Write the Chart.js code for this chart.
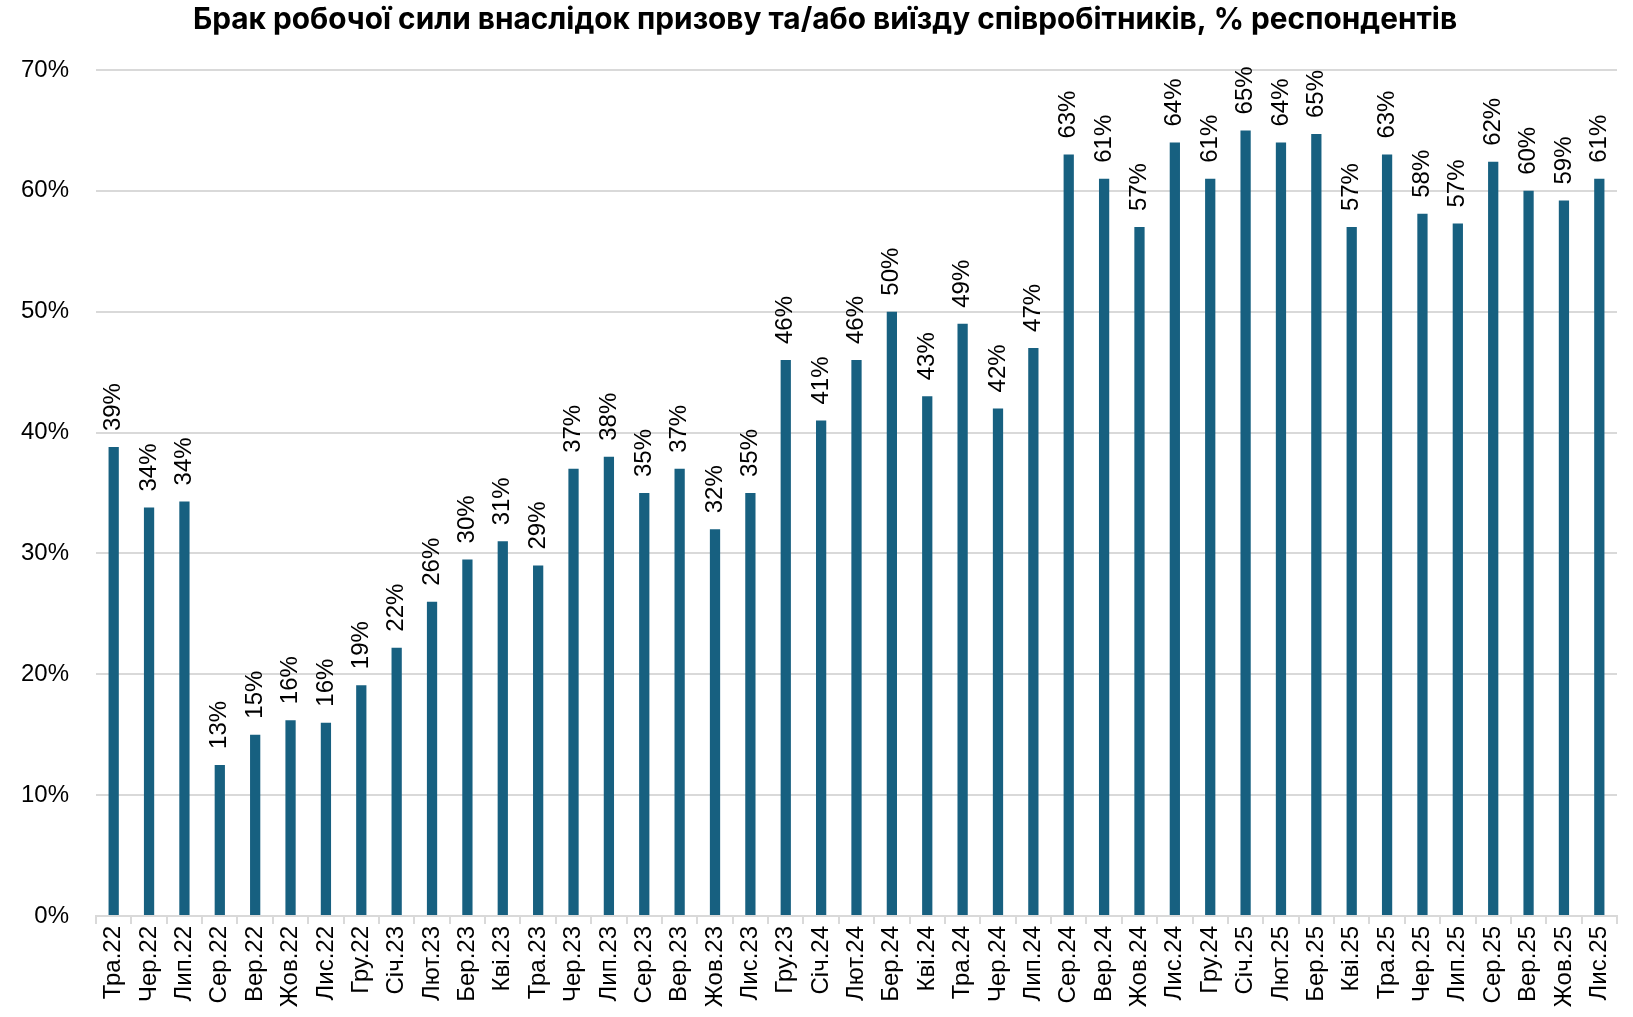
<!DOCTYPE html>
<html>
<head>
<meta charset="utf-8">
<script src="https://cdn.jsdelivr.net/npm/chart.js@4/dist/chart.umd.min.js"></script>
<style>
html,body{margin:0;padding:0;background:#fff;overflow:hidden;}
#wrap{width:1633px;height:1017px;position:relative;}
</style>
</head>
<body>
<div id="wrap"><canvas id="c" width="1633" height="1017"></canvas></div>
<script>
const titleText = "Брак робочої сили внаслідок призову та/або виїзду співробітників, % респондентів";
const categories = ["Тра.22","Чер.22","Лип.22","Сер.22","Вер.22","Жов.22","Лис.22","Гру.22","Січ.23","Лют.23","Бер.23","Кві.23","Тра.23","Чер.23","Лип.23","Сер.23","Вер.23","Жов.23","Лис.23","Гру.23","Січ.24","Лют.24","Бер.24","Кві.24","Тра.24","Чер.24","Лип.24","Сер.24","Вер.24","Жов.24","Лис.24","Гру.24","Січ.25","Лют.25","Бер.25","Кві.25","Тра.25","Чер.25","Лип.25","Сер.25","Вер.25","Жов.25","Лис.25"];
const values = [38.8,33.8,34.3,12.5,15.0,16.2,16.0,19.1,22.2,26.0,29.5,31.0,29.0,37.0,38.0,35.0,37.0,32.0,35.0,46.0,41.0,46.0,50.0,43.0,49.0,42.0,47.0,63.0,61.0,57.0,64.0,61.0,65.0,64.0,64.7,57.0,63.0,58.1,57.3,62.4,60.0,59.2,61.0];
const yTicks = [0,10,20,30,40,50,60,70];

const titlePlugin = {
  id: 'titlePlugin',
  afterDraw(chart) {
    const ctx = chart.ctx;
    ctx.save();
    ctx.fillStyle = '#000';
    ctx.font = 'bold 29.8px Inter, sans-serif';
    ctx.textAlign = 'center';
    ctx.textBaseline = 'middle';
    ctx.fillText(titleText, 825, 20);
    ctx.restore();
  }
};

const barLabels = {
  id: 'barLabels',
  afterDatasetsDraw(chart) {
    const ctx = chart.ctx;
    const meta = chart.getDatasetMeta(0);
    ctx.save();
    ctx.fillStyle = '#000';
    ctx.font = '24px "Liberation Sans", Arial, sans-serif';
    ctx.textAlign = 'left';
    ctx.textBaseline = 'middle';
    meta.data.forEach((el, i) => {
      ctx.save();
      ctx.translate(el.x, el.y - 16);
      ctx.rotate(-Math.PI / 2);
      ctx.fillText(Math.round(values[i]) + '%', 0, 0);
      ctx.restore();
    });
    ctx.restore();
  }
};

new Chart(document.getElementById('c'), {
  type: 'bar',
  data: {
    labels: categories,
    datasets: [{
      data: values,
      backgroundColor: '#176080',
      categoryPercentage: 1,
      barPercentage: 0.29
    }]
  },
  options: {
    responsive: false,
    animation: false,
    layout: { padding: { left: 0, right: 16, top: 70, bottom: 0 } },
    plugins: {
      legend: { display: false },
      tooltip: { enabled: false },
      title: { display: false }
    },
    scales: {
      x: {
        afterFit(s) { s.height = 101; },
        grid: { display: true, drawOnChartArea: false, drawTicks: true, tickLength: 8, color: '#d9d9d9', lineWidth: 2, offset: true },
        border: { display: true, color: '#d9d9d9', width: 2 },
        ticks: { color: '#000', font: { family: '"Liberation Sans", Arial', size: 24 }, minRotation: 90, maxRotation: 90, autoSkip: false, padding: 2 }
      },
      y: {
        min: 0, max: 70,
        afterFit(s) { s.width = 96; },
        afterBuildTicks(s) { s.ticks = yTicks.map(v => ({ value: v })); },
        grid: { color: '#d9d9d9', lineWidth: 2, drawTicks: false },
        border: { display: false },
        ticks: { color: '#000', font: { family: '"Liberation Sans", Arial', size: 24 }, padding: 27, callback: v => v + '%' }
      }
    }
  },
  plugins: [barLabels, titlePlugin]
});
</script>
</body>
</html>
